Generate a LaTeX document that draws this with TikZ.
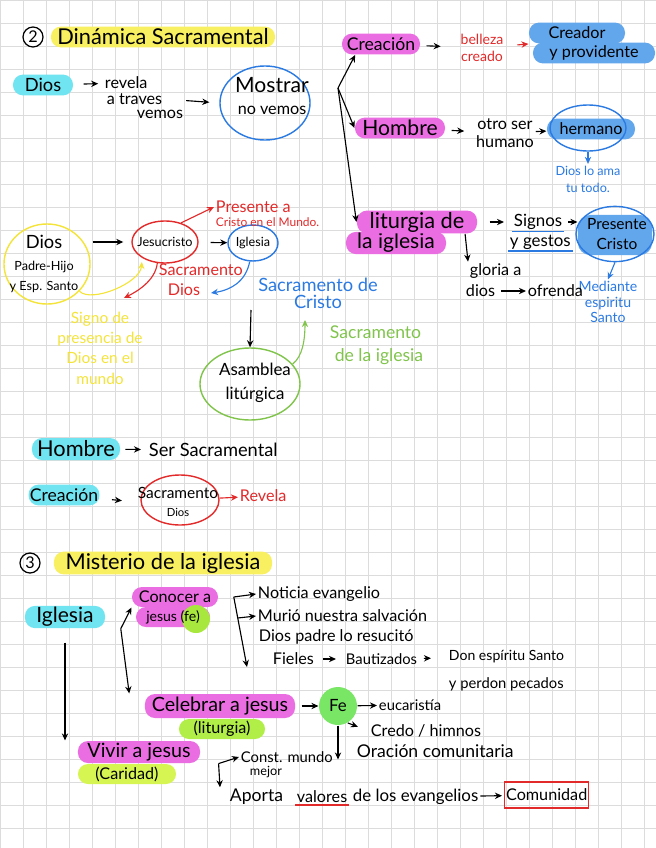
\documentclass[tikz,border=0pt]{standalone}
\usepackage{fontspec}
\setmainfont{Lato}
\usepackage{tikz}
\usetikzlibrary{calc, arrows.meta, positioning, shapes.geometric}
\usepackage{xcolor}

\definecolor{hlmagenta}{RGB}{234,110,226}
\definecolor{hlcyan}{RGB}{112,228,240}
\definecolor{hlyellow}{RGB}{248,240,96}
\definecolor{hlblue}{RGB}{98,166,236}
\definecolor{hllime}{RGB}{178,238,72}
\definecolor{hlyelgreen}{RGB}{214,245,82}
\definecolor{fegreen}{RGB}{122,230,102}
\definecolor{feblob}{RGB}{168,232,62}
\definecolor{penred}{RGB}{226,42,42}
\definecolor{penblue}{RGB}{42,122,226}
\definecolor{pengreen}{RGB}{128,196,76}
\definecolor{penyellow}{RGB}{244,228,58}
\definecolor{gridline}{RGB}{220,220,220}

\newcommand{\fsz}[2]{\fontsize{#1}{#2}\selectfont}

\begin{document}
\begin{tikzpicture}[x=0.025cm, y=-0.025cm, line width=0.8pt, font=\fsz{11.5}{13},
    txt/.style={inner sep=1pt, align=center},
    hl/.style={rounded corners=0.25cm, minimum height=0.52cm, inner sep=1pt},
    ring/.style={draw, ellipse, line width=1pt, inner sep=0pt},
    num/.style={draw, circle, line width=0.9pt, minimum size=0.5cm, inner sep=0pt},
    arr/.style={-{Stealth[length=5pt, width=4.5pt]}}]

  \useasboundingbox (0,0) rectangle (656,848);
  \fill[white] (0,0) rectangle (656,848);
  \foreach \g in {0,23,...,851} {
    \draw[gridline, line width=0.5pt] (\g,0) -- (\g,848);
    \draw[gridline, line width=0.5pt] (0,\g) -- (656,\g);
  }

  % --- 2 Dinamica sacramental
  \node[num] (num2) at (33,37) {2};
  \node[hl, fill=hlyellow, minimum width=5.6cm, font=\fsz{15.5}{16}] (tit2) at (163,37) {Dinámica Sacramental};

  \node[hl, fill=hlcyan, minimum width=1.5cm, font=\fsz{13}{14}] (dios1) at (43,85) {Dios};
  \node[txt, anchor=west] (rev1) at (103,83) {revela};
  \node[txt, anchor=west] (rev2) at (105,99) {a traves};
  \node[txt, anchor=west] (rev3) at (135,114) {vemos};
  \node[ring, draw=penblue, minimum width=2.25cm, minimum height=1.85cm] (mostring) at (265,103) {};
  \node[txt] (mostrar) at (272,96) {{\fsz{15}{16}Mostrar}\\[2pt]no vemos};
  \draw[arr, shorten <=0.25cm, shorten >=0.12cm] (dios1) -- (rev1);
  \draw[arr, shorten <=0.55cm, shorten >=0.25cm] (rev2.east) -- (mostring.west);

  \node[hl, fill=hlmagenta, minimum width=1.95cm, font=\fsz{12.5}{13}] (creacion1) at (381,44) {Creación};
  \node[txt, text=penred, font=\fsz{10}{12}] (belleza) at (482,48) {belleza\\creado};
  \node[hl, fill=hlblue, minimum width=3.05cm] (prov) at (594,53) {y providente};
  \node[hl, fill=hlblue, minimum width=2.4cm] (creador) at (577,33) {Creador};
  \draw[arr, shorten <=0.15cm, shorten >=0.45cm] (creacion1) -- (belleza);
  \draw[arr, draw=penred, shorten <=0.3cm] (belleza) -- (creador.south west);

  \node[hl, fill=hlmagenta, minimum width=2.25cm, font=\fsz{15}{16}] (hombre1) at (400,128) {Hombre};
  \node[txt] (otro) at (505,133) {otro ser\\humano};
  \node[hl, fill=hlblue, minimum width=2.2cm] (hermano) at (591,129) {hermano};
  \node[ring, draw=penblue, minimum width=1.9cm, minimum height=1.15cm] (hermring) at (588,128) {};
  \node[txt, text=penblue, font=\fsz{9}{12}] (diosama) at (588,179) {Dios lo ama\\tu todo.};
  \draw[arr, shorten <=0.15cm, shorten >=0.25cm] (hombre1) -- (otro);
  \draw[arr] (otro) -- (hermano);
  \draw[arr, draw=penblue] (hermring) -- (diosama);

  \coordinate (br1) at (338,88);
  \draw[arr] (br1) -- (creacion1.-157);
  \draw[arr] (br1) -- (hombre1.west);

  % --- Dios, Jesucristo, Iglesia
  \node[ring, draw=penyellow, minimum width=2.15cm, minimum height=2cm] (diosring) at (47,264) {};
  \node[txt] (dios2) at (44,264) {{\fsz{13}{14}Dios}\\[3pt]{\fsz{9}{10}Padre-Hijo}\\[1pt]{\fsz{9}{10}y Esp. Santo}};
  \node[ring, draw=penred, minimum width=1.65cm, minimum height=1.05cm] (jesusring) at (165,242) {};
  \node[txt, font=\fsz{9}{10}] (jesus) at (165,242) {Jesucristo};
  \node[ring, draw=penblue, minimum width=1.25cm, minimum height=0.9cm] (iglring) at (253,243) {};
  \node[txt, font=\fsz{9}{10}] (iglesia1) at (253,243) {Iglesia};
  \node[txt, anchor=west, text=penred] (pres1) at (214,207) {Presente a};
  \node[txt, anchor=west, text=penred, font=\fsz{8.5}{9}] (pres2) at (214,222) {Cristo en el Mundo.};
  \node[txt, anchor=west, text=penred] (sac1) at (157,270) {Sacramento};
  \node[txt, anchor=west, text=penred] (sac2) at (166,290) {Dios};
  \node[txt, text=penyellow, font=\fsz{11}{14.5}] (signo) at (100,348) {Signo de\\presencia de\\Dios en el\\mundo};
  \node[txt, text=penblue, font=\fsz{13}{12}] (sacristo) at (318,293) {Sacramento de\\Cristo};

  \draw[arr, shorten <=0.05cm, shorten >=0.2cm] (diosring.east |- jesusring.west) -- (jesusring.west);
  \draw[arr, draw=penyellow, shorten >=0.1cm] (diosring.-40) .. controls +(12,12) and +(-2,25) .. (jesusring.-145);
  \draw[arr, draw=penred] (jesusring.50) -- (pres1.west);
  \draw[arr, shorten <=0.3cm] (jesusring) -- (iglring);
  \coordinate (sdend) at (124,298);
  \draw[arr, draw=penred] (jesusring.-110) .. controls +(-2,18) and +(12,-6) .. (sdend);
  \coordinate (igend) at (211,293);
  \draw[arr, draw=penblue] (iglring.-100) .. controls +(-4,20) and +(20,-3) .. (igend);

  \node[ring, draw=pengreen, minimum width=2.5cm, minimum height=1.8cm] (asamring) at (250,384) {};
  \node[txt, font=\fsz{12}{17}] (asamblea) at (255,383) {Asamblea\\litúrgica};
  \node[txt, anchor=west, align=left, text=pengreen, font=\fsz{12.5}{16}] (sacigl) at (328,345) {Sacramento\\\hspace{0.12cm}de la iglesia};
  \coordinate (asamtop) at (251,310);
  \draw[arr] (asamtop) -- (asamring.north);
  \coordinate (grend) at (305,320);
  \draw[arr, draw=pengreen] (asamring.25) .. controls +(10,-8) and +(0,20) .. (grend);

  % --- liturgia de la iglesia
  \node[hl, fill=hlmagenta, minimum width=2.5cm, minimum height=0.5cm, font=\fsz{15}{16}] (lit2) at (396,243) {la iglesia};
  \node[hl, fill=hlmagenta, minimum width=3.0cm, minimum height=0.55cm, font=\fsz{15.5}{16}] (lit1) at (417,222) {liturgia de};
  \draw[arr] (br1) -- (lit1.west);
  \node[txt, anchor=west, font=\fsz{12}{13}] (sg1) at (512,222) {Signos};
  \node[txt, anchor=west, font=\fsz{12}{13}] (sg2) at (508,242) {y gestos};
  \draw[penblue, line width=1pt] (sg1.south west) -- (sg1.south east);
  \draw[penblue, line width=1pt] (sg2.south west) -- (sg2.south east);
  \draw[arr, shorten <=0.3cm, shorten >=0.2cm] (lit1.east) -- (sg1.west);

  \node[hl, fill=hlblue, rounded corners=0.3cm, minimum width=1.85cm, minimum height=1.0cm] (preshl) at (615,235) {};
  \node[ring, draw=penblue, minimum width=1.95cm, minimum height=1.38cm] (presring) at (615,234) {};
  \node[txt, font=\fsz{11}{14}] (presente) at (617,234) {Presente\\Cristo};
  \draw[arr, shorten <=0.1cm] (sg1.east) -- (preshl.west |- sg1.east);
  \node[txt, text=penblue, font=\fsz{10}{11}] (mediante) at (608,302) {Mediante\\espiritu\\Santo};
  \draw[arr, draw=penblue] (presring.south) -- (mediante.north);

  \node[txt, anchor=west] (glo1) at (468,271) {gloria a};
  \node[txt, anchor=west] (glo2) at (464,291) {dios};
  \node[txt, anchor=west] (ofrenda) at (526,291) {ofrenda};
  \draw[arr] (lit1.-14) -- (glo1.north west);
  \draw[arr, shorten <=0.1cm] (glo2) -- (ofrenda);

  % --- Hombre / Creacion
  \node[hl, fill=hlcyan, minimum width=2.2cm, minimum height=0.55cm, font=\fsz{15.5}{16}] (hombre2) at (76,449) {Hombre};
  \node[txt, anchor=west, font=\fsz{13}{14}] (sersac) at (147,450) {Ser Sacramental};
  \draw[arr, shorten <=0.12cm, shorten >=0.15cm] (hombre2) -- (sersac);
  \node[hl, fill=hlcyan, minimum width=1.75cm, font=\fsz{12.5}{13}] (creacion2) at (64,495) {Creación};
  \node[ring, draw=penred, minimum width=1.95cm, minimum height=1.25cm] (sacring2) at (180,500) {};
  \node[txt, font=\fsz{11}{13}] (sacd2) at (178,502) {Sacramento\\{\fsz{8}{9}Dios}};
  \node[txt, anchor=west, text=penred] (revela2) at (238,496) {Revela};
  \draw[arr, shorten <=0.3cm, shorten >=0.35cm] (creacion2) -- (sacd2.west);
  \draw[arr, draw=penred] (sacring2) -- (revela2);

  % --- 3 Misterio de la iglesia
  \node[num] (num3) at (30,563) {3};
  \node[hl, fill=hlyellow, minimum width=5.45cm, font=\fsz{15.5}{16}] (tit3) at (163,563) {Misterio de la iglesia};

  \node[hl, fill=hlcyan, minimum width=2cm, font=\fsz{15}{16}] (iglesia2) at (65,617) {Iglesia};
  \node[hl, fill=hlmagenta, minimum width=2.15cm, minimum height=0.5cm] (con1) at (175,597) {Conocer a};
  \node[hl, fill=hlmagenta, minimum width=1.85cm, minimum height=0.5cm] (con2) at (173,617) {};
  \node[circle, fill=feblob, minimum size=0.7cm, inner sep=0pt] (fe1) at (196,619) {};
  \node[txt, font=\fsz{10}{11}] (con2txt) at (173,617) {jesus (fe)};

  \coordinate[right=0.38cm of iglesia2.south east] (br3);
  \draw[arr] (br3) -- (con1.south west);

  \node[txt, anchor=west] (noticia) at (256,594) {Noticia evangelio};
  \node[txt, anchor=west] (murio) at (256,616) {Murió nuestra salvación};
  \node[txt, anchor=west] (padre) at (257,637) {Dios padre lo resucitó};
  \node[txt, anchor=west] (fieles) at (271,659) {Fieles};
  \node[txt, anchor=west, font=\fsz{10.5}{12}] (bauti) at (344,659) {Bautizados};
  \node[txt, anchor=west, font=\fsz{10}{12}] (don) at (447,657) {Don espíritu Santo};
  \node[txt, anchor=west, font=\fsz{10.5}{12}] (perdon) at (447,684) {y perdon pecados};
  \coordinate[right=0.38cm of con1.east] (bk1);
  \coordinate[left=0.6cm of fieles.south west] (bk1b);
  \draw[arr] (bk1) -- (noticia.west);
  \draw[arr] (bk1) -- (bk1b);
  \draw[arr] ($(bk1)!0.3!(bk1b)$) -- (murio.west);
  \draw[arr, shorten <=0.18cm, shorten >=0.2cm] (fieles) -- (bauti);
  \draw[arr, shorten <=0.12cm, shorten >=0.4cm] (bauti) -- (don);

  \node[hl, fill=hlmagenta, minimum width=3.75cm, minimum height=0.6cm, font=\fsz{14}{15}] (celeb) at (220,706) {Celebrar a jesus};
  \node[hl, fill=hllime, minimum width=2.15cm, minimum height=0.5cm] (litg) at (222,729) {(liturgia)};
  \coordinate[left=0.38cm of celeb.north west] (celtip);
  \draw[arr] (br3) -- (celtip);
  \node[circle, fill=fegreen, minimum size=0.95cm, inner sep=0pt, font=\fsz{12}{13}] (fe) at (338,706) {Fe};
  \node[txt, anchor=west, font=\fsz{10.5}{12}] (euca) at (377,705) {eucaristía};
  \node[txt, anchor=west] (credo) at (369,731) {Credo / himnos};
  \node[txt, anchor=west, font=\fsz{12.5}{13}] (oracion) at (355,751) {Oración comunitaria};
  \draw[arr, shorten <=0.15cm] (celeb) -- (fe);
  \draw[arr] (fe) -- (euca);
  \draw[arr, shorten >=0.3cm] (fe.-60) -- (credo.west);
  \draw[arr] (fe.south) -- (fe.south |- oracion.south);

  \node[hl, fill=hlmagenta, minimum width=3.05cm, minimum height=0.55cm, font=\fsz{14}{15}] (vivir) at (139,752) {Vivir a jesus};
  \node[hl, fill=hlyelgreen, minimum width=2.45cm, minimum height=0.5cm] (caridad) at (127,774) {(Caridad)};
  \draw[arr, shorten <=0.35cm] (iglesia2.south) -- (iglesia2.south |- vivir.north);

  \node[txt, anchor=west, font=\fsz{10.5}{12}] (const) at (239,757) {Const. mundo};
  \node[txt, anchor=west, font=\fsz{9}{10}] (mejor) at (248,772) {mejor};
  \node[txt, anchor=west, font=\fsz{12.5}{13}] (aporta) at (228,797) {Aporta};
  \node[txt, anchor=west, font=\fsz{11.5}{13}] (valores) at (295,797) {valores};
  \node[txt, anchor=west, font=\fsz{12}{13}] (evang) at (351,797) {de los evangelios};
  \node[draw=penred, line width=1pt, anchor=west, minimum width=1.85cm, minimum height=0.65cm, inner sep=1pt] (comun) at (504,795) {Comunidad};
  \draw[penred, line width=1pt] (valores.south west) -- (valores.south east);
  \coordinate[right=0.45cm of vivir.south east] (bk2);
  \coordinate[left=0.2cm of aporta.north west] (bk2b);
  \draw[arr] (bk2) -- (const.west);
  \draw[arr] (bk2) -- (bk2b);
  \draw[arr, shorten >=0.05cm] (evang) -- (comun);
\end{tikzpicture}
\end{document}
